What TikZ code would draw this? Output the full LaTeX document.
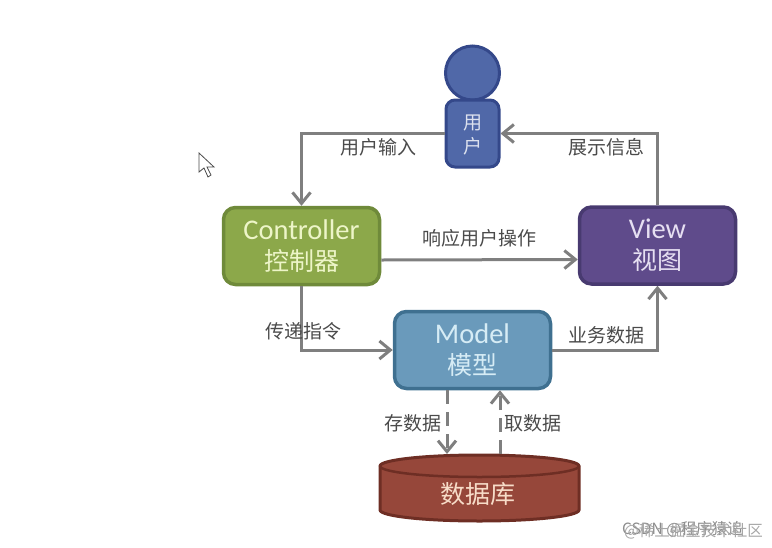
\documentclass[tikz,border=0pt]{standalone}
\usepackage{fontspec}
\setmainfont{Carlito}
\newfontfamily\cjk{Noto Sans CJK SC}
\usetikzlibrary{arrows.meta}
\definecolor{linegray}{HTML}{7F7F7F}
\definecolor{labelgray}{HTML}{4A4A4A}
\definecolor{usrfill}{HTML}{5068A8}
\definecolor{usrline}{HTML}{34488A}
\definecolor{ctlfill}{HTML}{8CA84A}
\definecolor{ctlline}{HTML}{6F8A3A}
\definecolor{ctltext}{HTML}{EDF5C8}
\definecolor{viewfill}{HTML}{5F4B8B}
\definecolor{viewline}{HTML}{483A70}
\definecolor{viewtext}{HTML}{E6DFF2}
\definecolor{modelfill}{HTML}{6A9ABB}
\definecolor{modelline}{HTML}{3F7090}
\definecolor{modeltext}{HTML}{D6ECF5}
\definecolor{dbfill}{HTML}{96473A}
\definecolor{dbline}{HTML}{6E2E24}
\definecolor{dbtext}{HTML}{F7DCC8}

\begin{document}
\begin{tikzpicture}[
  x=1pt, y=-1pt,
  box/.style={rectangle, rounded corners=12pt, draw, line width=3.5pt, minimum width=156pt, minimum height=77pt, align=center, font=\fontsize{28.5}{30}\selectfont, inner sep=0pt},
  lbl/.style={text=labelgray, font=\fontsize{19}{20}\selectfont\cjk, inner sep=0pt},
  flow/.style={draw=linegray, line width=3pt, -{Straight Barb[length=11pt,width=18pt]}},
  dataflow/.style={flow, dash pattern=on 14pt off 8pt},
  dbshape/.style={draw=dbline, fill=dbfill, line width=3pt}
]
  \useasboundingbox (0,0) rectangle (772,547);

  \node[circle, draw=usrline, fill=usrfill, line width=3pt, minimum size=54pt, inner sep=0pt] (head) at (472.5,73) {};
  \node[rectangle, rounded corners=9pt, draw=usrline, fill=usrfill, line width=3pt, minimum width=53pt, minimum height=67pt, inner sep=0pt] (usr) at (472.5,133.5) {};
  \node[align=center, text=white!80!usrfill, inner sep=0pt, font=\fontsize{19}{23.5}\selectfont\cjk] (usrname) at (472.5,135) {用\\户};
  \node[box, draw=ctlline, fill=ctlfill, text=ctltext] (ctl) at (301.5,246) {Controller\\[1pt]{\cjk\fontsize{25}{28}\selectfont 控制器}};
  \node[box, draw=viewline, fill=viewfill, text=viewtext] (view) at (657.5,245.5) {View\\[1pt]{\cjk\fontsize{25}{28}\selectfont 视图}};
  \node[box, draw=modelline, fill=modelfill, text=modeltext] (model) at (472.5,350) {Model\\[1pt]{\cjk\fontsize{25}{28}\selectfont 模型}};

  \draw[dbshape] (380,466) -- (380,510) arc[start angle=180, end angle=360, x radius=99.5pt, y radius=11pt] -- (579,466) arc[start angle=0, end angle=180, x radius=99.5pt, y radius=11pt] -- cycle;
  \draw[dbline, line width=2.5pt] (380,466) arc[start angle=180, end angle=360, x radius=99.5pt, y radius=11pt];
  \node[text=dbtext, inner sep=0pt, font=\fontsize{25}{28}\selectfont\cjk] (dbname) at (478,494) {数据库};

  \coordinate (dbin) at (447,454);
  \coordinate (dbout) at (500,454);

  \draw[flow] (usr.west) -| (ctl.north);
  \draw[flow] (view.north) |- (usr.east);
  \draw[flow] ([yshift=-14pt]ctl.east) -- ([yshift=-14pt]view.west);
  \draw[flow] (ctl.south) |- (model.west);
  \draw[flow] (model.east) -| (view.south);
  \draw[dataflow] (model.south -| dbin) -- (dbin);
  \draw[dataflow] (dbout) -- (model.south -| dbout);

  \node[lbl] (input) at (378.5,147) {用户输入};
  \node[lbl] (show) at (606.5,147) {展示信息};
  \node[lbl] (respond) at (479,238) {响应用户操作};
  \node[lbl] (pass) at (303,331) {传递指令};
  \node[lbl] (bizdata) at (606.5,335) {业务数据};
  \node[lbl] (store) at (413,423) {存数据};
  \node[lbl] (fetch) at (533,423) {取数据};

  \draw[black!70, fill=white, line width=0.8pt] (199,153) -- (199,172) -- (204,168) -- (208,177) -- (211,175) -- (207,167) -- (214,167) -- cycle;

  \node[anchor=west, text=black!45, inner sep=0pt, font=\fontsize{15.5}{16}\selectfont\cjk] (mark) at (622,529) {CSDN @程序猿追};
  \node[anchor=west, text=black!35, inner sep=0pt, font=\fontsize{15.5}{16}\selectfont\cjk] (marktwo) at (624,531) {@稀土掘金技术社区};
\end{tikzpicture}
\end{document}
